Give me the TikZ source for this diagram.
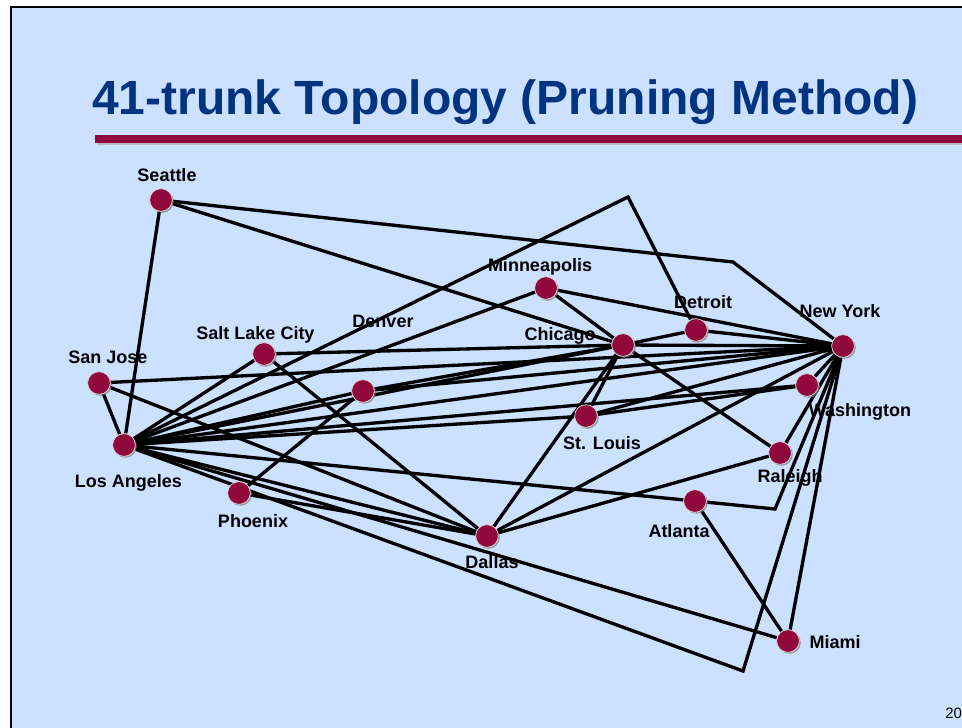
\documentclass[tikz,border=0pt]{standalone}
\usepackage{fontspec}
\setmainfont{Liberation Sans}
\usetikzlibrary{shadows}
\definecolor{bgblue}{RGB}{204,224,255}
\definecolor{cityred}{RGB}{145,8,60}
\definecolor{titleblue}{RGB}{0,51,128}
\pgfdeclarelayer{background}
\pgfsetlayers{background,main}
\begin{document}
\begin{tikzpicture}[x=0.75pt,y=-0.75pt,
  city/.style={circle,fill=cityred,draw=white!70!gray,line width=0.5pt,minimum size=17pt,inner sep=0pt,
    drop shadow={shadow xshift=1.1pt,shadow yshift=-1.1pt,fill=gray,opacity=0.7}},
  lbl/.style={font=\bfseries\fontsize{13.5}{16}\selectfont,anchor=base,inner sep=0pt},
  trunk/.style={line width=2.5pt,black,line join=miter}]
\useasboundingbox (0,0) rectangle (962,727);
\clip (0,0) rectangle (962,727);
\begin{pgfonlayer}{background}
\fill[white] (0,0) rectangle (962,727);
\draw[fill=bgblue,line width=1.8pt] (11,7) rectangle (1000,760);
\end{pgfonlayer}

% title
\node[anchor=base west,inner sep=0pt,font=\bfseries\fontsize{36}{40}\selectfont,text=titleblue] (title) at (92,115) {41-trunk Topology (Pruning Method)};
\fill[gray!55] (97,137.5) rectangle (970,145.5);
\fill[cityred] (95,135) rectangle (970,143);

% cities
\node[city] (sea) at (161,200) {};
\node[city] (sj) at (99,383) {};
\node[city] (la) at (124,445) {};
\node[city] (slc) at (264,354) {};
\node[city] (den) at (363,391) {};
\node[city] (phx) at (239,493) {};
\node[city] (min) at (546,288) {};
\node[city] (chi) at (623,345) {};
\node[city] (det) at (696,330) {};
\node[city] (ny) at (843,346) {};
\node[city] (was) at (807,385) {};
\node[city] (stl) at (586,416) {};
\node[city] (ral) at (780,453) {};
\node[city] (atl) at (695,501) {};
\node[city] (dal) at (487,536) {};
\node[city] (mia) at (788,641) {};

\coordinate (b1) at (628,197);
\coordinate (b2) at (733,262);
\coordinate (b3) at (775,509);
\coordinate (b4) at (743,671);

% trunks
\begin{pgfonlayer}{background}
\draw[trunk] (sea) -- (la);
\draw[trunk] (sea) -- (chi);
\draw[trunk] (sea) -- (b2) -- (ny);
\draw[trunk] (sj) -- (la);
\draw[trunk] (sj) -- (ny);
\draw[trunk] (sj) -- (dal);
\draw[trunk] (la) -- (b1) -- (det);
\draw[trunk] (la) -- (slc);
\draw[trunk] (la) -- (min);
\draw[trunk] (la) -- (den);
\draw[trunk] (la) -- (chi);
\draw[trunk] (la) -- (ny);
\draw[trunk] (la) -- (was);
\draw[trunk] (la) -- (stl);
\draw[trunk] (la) -- (atl);
\draw[trunk] (la) -- (dal);
\draw[trunk] (la) -- (mia);
\draw[trunk] (la) -- (b4) -- (ny);
\draw[trunk] (slc) -- (chi);
\draw[trunk] (slc) -- (dal);
\draw[trunk] (den) -- (phx);
\draw[trunk] (den) -- (chi);
\draw[trunk] (den) -- (ny);
\draw[trunk] (phx) -- (dal);
\draw[trunk] (min) -- (chi);
\draw[trunk] (min) -- (ny);
\draw[trunk] (chi) -- (det);
\draw[trunk] (chi) -- (ny);
\draw[trunk] (chi) -- (stl);
\draw[trunk] (chi) -- (dal);
\draw[trunk] (chi) -- (ral);
\draw[trunk] (det) -- (ny);
\draw[trunk] (stl) -- (ny);
\draw[trunk] (stl) -- (was);
\draw[trunk] (was) -- (ny);
\draw[trunk] (ral) -- (ny);
\draw[trunk] (ral) -- (dal);
\draw[trunk] (dal) -- (ny);
\draw[trunk] (atl) -- (b3) -- (ny);
\draw[trunk] (atl) -- (mia);
\draw[trunk] (mia) -- (ny);
\end{pgfonlayer}

% labels
\node[lbl] (lsea) at (167,181) {Seattle};
\node[lbl] (lsj) at (108,363) {San Jose};
\node[lbl] (lla) at (128.5,487) {Los Angeles};
\node[lbl] (lphx) at (253,527) {Phoenix};
\node[lbl] (lslc) at (255.5,339) {Salt Lake City};
\node[lbl] (lden) at (383,327) {Denver};
\node[lbl] (lmin) at (540,271) {Minneapolis};
\node[lbl] (lchi) at (560,340) {Chicago};
\node[lbl] (ldet) at (703,308) {Detroit};
\node[lbl] (lny) at (840,317) {New York};
\node[lbl] (lwas) at (860,416) {Washington};
\node[lbl] (lstl) at (602,449) {St. Louis};
\node[lbl] (lral) at (790,482) {Raleigh};
\node[lbl] (latl) at (679,537) {Atlanta};
\node[lbl] (ldal) at (492,568) {Dallas};
\node[lbl] (lmia) at (835,648) {Miami};

\node[anchor=base west,inner sep=0pt,font=\fontsize{11.25}{13}\selectfont] (pg) at (945,718) {20};
\end{tikzpicture}
\end{document}
